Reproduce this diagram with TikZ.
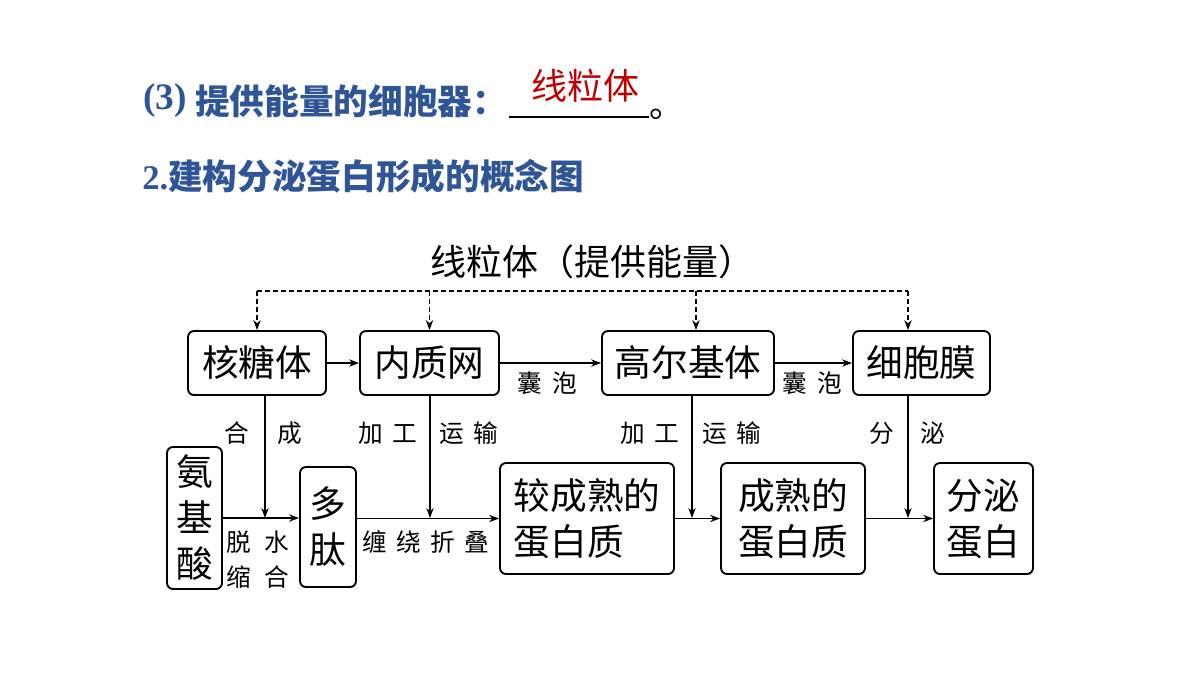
\documentclass[tikz,border=0pt]{standalone}
\usepackage{fontspec}
\setmainfont{Noto Sans CJK SC}
\newfontfamily\serf{Liberation Serif}
\usetikzlibrary{arrows.meta}
\definecolor{hblue}{RGB}{47,85,151}
\definecolor{hred}{RGB}{192,0,0}
\begin{document}
\begin{tikzpicture}[x=0.75pt,y=-0.75pt,
  box/.style={draw,line width=1.4pt,rounded corners=4.5pt,inner sep=0pt,
    font=\fontsize{27.5}{34.5}\selectfont,align=left},
  arr/.style={line width=1pt,-{Stealth[length=7.5pt,width=5.5pt]}},
  darr/.style={line width=1pt,dash pattern=on 3.75pt off 2.25pt,-{Stealth[length=7.5pt,width=5.5pt]}},
  dline/.style={line width=1pt,dash pattern=on 3.75pt off 2.25pt},
  lbl/.style={font=\fontsize{18.5}{20}\selectfont,inner sep=0pt},
  head/.style={text=hblue,inner sep=0pt,font=\fontsize{26}{30}\selectfont\bfseries}]
\fill[white] (0,0) rectangle (1200,675);
\useasboundingbox (0,0) rectangle (1200,675);

% header
\node[head,anchor=west,font=\fontsize{28}{30}\selectfont\bfseries] (h1a) at (143,101) {{\serf(3)}};
\node[head,anchor=west] (h1b) at (195,101) {提供能量的细胞器：};
\node[text=hred,inner sep=0pt,font=\fontsize{27}{30}\selectfont] (ans) at (585,86) {线粒体};
\draw[line width=2.2pt] (509,117) -- (649,117);
\node[inner sep=0pt,anchor=base west,font=\fontsize{26}{30}\selectfont] (dot) at (649,117) {。};
\node[head,anchor=west] (h2) at (142,176) {{\serf 2.}建构分泌蛋白形成的概念图};

% title
\node[inner sep=0pt,font=\fontsize{27}{30}\selectfont] (mito) at (592,262)
  {线粒体（提供能量）};

% boxes
\node[box,minimum width=138*0.75pt,minimum height=64*0.75pt] (rib) at (257,363) {核糖体};
\node[box,minimum width=139*0.75pt,minimum height=64*0.75pt] (er) at (429.5,363) {内质网};
\node[box,minimum width=172*0.75pt,minimum height=64*0.75pt] (golgi) at (688,363) {高尔基体};
\node[box,minimum width=137*0.75pt,minimum height=64*0.75pt] (mem) at (921.5,363) {细胞膜};
\node[box,minimum width=55*0.75pt,minimum height=142*0.75pt] (aa) at (194.5,518) {氨\\基\\酸};
\node[box,minimum width=56*0.75pt,minimum height=120*0.75pt] (pep) at (328,527) {多\\肽};
\node[box,minimum width=174*0.75pt,minimum height=111*0.75pt] (less) at (587,518.5) {较成熟的\\蛋白质};
\node[box,minimum width=144*0.75pt,minimum height=111*0.75pt] (mat) at (793,518.5) {成熟的\\蛋白质};
\node[box,minimum width=99*0.75pt,minimum height=111*0.75pt] (sec) at (983.5,518.5) {分泌\\蛋白};

% dashed energy supply
\coordinate (d1) at (257,291);
\coordinate (d3) at (696,291);
\coordinate (d4) at (908,291);
\draw[dline] (d1) -- (d4);
\draw[darr] (d1) -- (rib.north);
\draw[darr] (er.north |- d1) -- (er.north);
\draw[darr] (d3) -- (d3 |- golgi.north);
\draw[darr] (d4) -- (d4 |- mem.north);

% top row
\draw[arr] (rib) -- (er);
\draw[arr] (er) -- (golgi);
\draw[arr] (golgi) -- (mem);

% main line
\coordinate (j1) at (265,518);
\coordinate (j2) at (430,518);
\coordinate (j3) at (692,518);
\coordinate (j4) at (908,518);
\draw[arr] (aa.east) -- (aa.east -| pep.west);
\draw[arr] (less.west -| pep.east) -- (less.west);
\draw[arr] (less) -- (mat);
\draw[arr] (mat) -- (sec);

% verticals
\draw[arr] (j1 |- rib.south) -- (j1);
\draw[arr] (j2 |- er.south) -- (j2);
\draw[arr] (j3 |- golgi.south) -- (j3);
\draw[arr] (j4 |- mem.south) -- (j4);

% labels
\node[lbl] (l1) at (547,383) {囊\hspace{8pt}泡};
\node[lbl] (l2) at (812,383) {囊\hspace{8pt}泡};
\node[lbl] (l3) at (237,433) {合};
\node[lbl] (l4) at (290,433) {成};
\node[lbl] (l5) at (388,433) {加\hspace{7pt}工};
\node[lbl] (l6) at (469,433) {运\hspace{7pt}输};
\node[lbl] (l7) at (650,433) {加\hspace{7pt}工};
\node[lbl] (l8) at (732,433) {运\hspace{7pt}输};
\node[lbl] (l9) at (882,433) {分};
\node[lbl] (l10) at (933,433) {泌};
\node[lbl] (l11) at (258,542) {脱\hspace{10pt}水};
\node[lbl] (l12) at (258,577) {缩\hspace{10pt}合};
\node[lbl] (l13) at (426,542) {缠\hspace{7pt}绕\hspace{7pt}折\hspace{7pt}叠};
\end{tikzpicture}
\end{document}
